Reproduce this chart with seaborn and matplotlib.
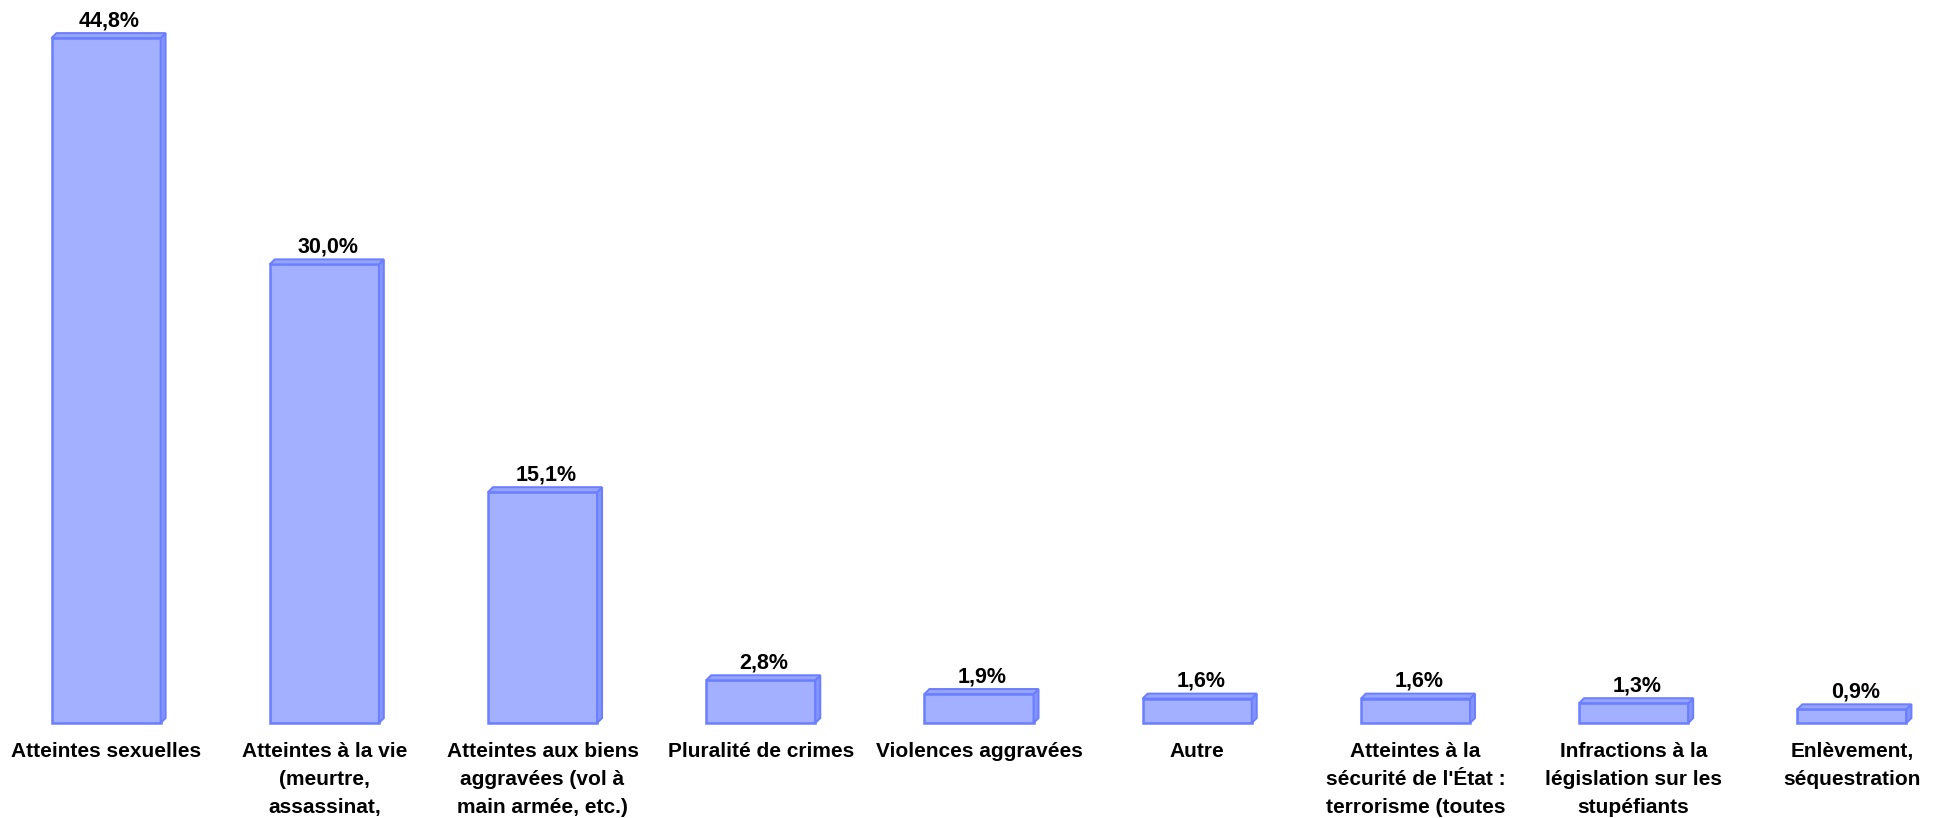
import matplotlib
matplotlib.use("Agg")
import matplotlib.pyplot as plt
import seaborn as sns
import pandas as pd
from matplotlib.patches import Polygon

categories = [
    "Atteintes sexuelles",
    "Atteintes à la vie\n(meurtre,\nassassinat,",
    "Atteintes aux biens\naggravées (vol à\nmain armée, etc.)",
    "Pluralité de crimes",
    "Violences aggravées",
    "Autre",
    "Atteintes à la\nsécurité de l'État :\nterrorisme (toutes",
    "Infractions à la\nlégislation sur les\nstupéfiants",
    "Enlèvement,\nséquestration",
]
values = [44.8, 30.0, 15.1, 2.8, 1.9, 1.6, 1.6, 1.3, 0.9]
value_labels = ["44,8%", "30,0%", "15,1%", "2,8%", "1,9%", "1,6%", "1,6%", "1,3%", "0,9%"]

front_color = "#A3B0FF"
side_color = "#8394FF"
top_color = "#94A4FF"
edge_color = "#6B7EFF"

sns.set_theme(style="white")
plt.rcParams["font.family"] = ["Liberation Sans Narrow", "Liberation Sans", "DejaVu Sans"]

df = pd.DataFrame({"cat": [str(i) for i in range(len(categories))], "val": values})

fig = plt.figure(figsize=(19.37, 8.18), dpi=100)
ax = fig.add_axes([0, 0, 1, 1])
sns.barplot(data=df, x="cat", y="val", color=front_color, edgecolor=edge_color,
            linewidth=1.8, width=0.5, saturation=1, ax=ax)
ax.set_xlim(-0.486, 8.39)
ax.set_ylim(-6.21, 47.29)
ax.axis("off")

# depth offset of 5 px right / 5 px up expressed in data units
inv = ax.transData.inverted()
p0 = ax.transData.transform((0, 0))
q = inv.transform((p0[0] + 5, p0[1] + 5))
dx, dy = q[0], q[1]

for i, patch in enumerate(list(ax.patches)):
    x0 = patch.get_x()
    w = patch.get_width()
    h = patch.get_height()
    x1 = x0 + w
    side = Polygon([(x1, 0), (x1 + dx, dy), (x1 + dx, h + dy), (x1, h)], closed=True,
                   facecolor=side_color, edgecolor=edge_color, linewidth=1.4, zorder=3)
    top = Polygon([(x0, h), (x0 + dx, h + dy), (x1 + dx, h + dy), (x1, h)], closed=True,
                  facecolor=top_color, edgecolor=edge_color, linewidth=1.4, zorder=3)
    ax.add_patch(side)
    ax.add_patch(top)
    ax.annotate(value_labels[i], xy=(x0 + w / 2, h), xytext=(2.5, 8.5),
                textcoords="offset points", ha="center", va="baseline",
                fontsize=15.5, fontweight="bold", color="black")
    ax.annotate(categories[i], xy=(x0 + w / 2, 0), xytext=(0, -13.5),
                textcoords="offset points", ha="center", va="top",
                fontsize=15, fontweight="bold", color="black", linespacing=1.62)

fig.savefig("out.png", dpi=100)
